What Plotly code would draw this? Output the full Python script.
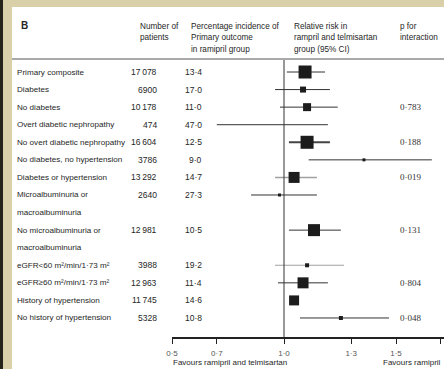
import plotly.graph_objects as go

# ---------------- data ----------------
labels = ["Primary composite", "Diabetes", "No diabetes", "Overt diabetic nephropathy",
          "No overt diabetic nephropathy", "No diabetes, no hypertension",
          "Diabetes or hypertension", "Microalbuminuria or\nmacroalbuminuria",
          "No microalbuminuria or\nmacroalbuminuria", "eGFR<60 m²/min/1·73 m²",
          "eGFR≥60 m²/min/1·73 m²", "History of hypertension", "No history of hypertension"]
n_patients = ["17\u2009078", "6900", "10\u2009178", "474", "16\u2009604", "3786", "13\u2009292",
              "2640", "12\u2009981", "3988", "12\u2009963", "11\u2009745", "5328"]
pct_incidence = ["13·4", "17·0", "11·0", "47·0", "12·5", "9·0", "14·7", "27·3", "10·5",
                 "19·2", "11·4", "14·6", "10·8"]
rel_risk = [1.094, 1.085, 1.103, None, 1.103, 1.357, 1.045, 0.98, 1.134, 1.103, 1.085, 1.045, 1.254]
ci_low = [1.013, 0.96, 0.982, 0.70, 1.022, 1.11, 0.96, 0.853, 1.022, 0.96, 0.973, 1.03, 1.071]
ci_high = [1.183, 1.205, 1.24, 1.196, 1.205, 1.66, 1.147, 1.147, 1.254, 1.268, 1.196, 1.06, 1.469]
p_interaction = ["", "", "0·783", "", "0·188", "", "0·019", "", "0·131", "", "0·804", "", "0·048"]
row_line = [0, 1, 2, 3, 4, 5, 6, 7, 9, 11, 12, 13, 14]
tick_vals = [0.5, 0.7, 1.0, 1.3, 1.5, 1.7]
tick_text = ["0·5", "0·7", "1·0", "1·3", "1·5", "1·7"]

# ---------------- styles ----------------
box_px = [13, 6, 8, 0, 13, 3, 11, 3, 12, 4, 11, 10, 4]
ci_color = ["#333", "#333", "#333", "#333", "#444", "#333", "#a0a0a0", "#333", "#333",
            "#a0a0a0", "#333", "#333", "#333"]
ci_width = [1, 1, 1, 1, 2, 1, 1.5, 1, 1, 1.2, 1, 1, 1]

W, H = 444, 369
ML, MB = 172, 32
PW, PH = W - ML, H - MB
FONT = "Liberation Sans Narrow, Liberation Sans, Arial, sans-serif"
SERIF = "Liberation Serif, Times New Roman, serif"
TXT = "#262626"
FS = 8.5
FS_LAB = 8.1


def px(x):
    return (x - ML) / PW


def py(y):
    return 1 - y / PH


fig = go.Figure()

for i in range(len(labels)):
    r = row_line[i]
    fig.add_trace(go.Scatter(x=[ci_low[i], ci_high[i]], y=[r, r], mode="lines",
                             line=dict(color=ci_color[i], width=ci_width[i]),
                             hoverinfo="skip", showlegend=False))
    if rel_risk[i] is not None and box_px[i] > 0:
        fig.add_trace(go.Scatter(x=[rel_risk[i]], y=[r], mode="markers",
                                 marker=dict(symbol="square", size=box_px[i], color="#1c1c1c",
                                             line=dict(width=0)),
                                 hoverinfo="skip", showlegend=False))

ann = []
for i in range(len(labels)):
    r = row_line[i]
    for k, part in enumerate(labels[i].split("\n")):
        ann.append(dict(x=px(15), y=r + k, xref="paper", yref="y", text=part,
                        xanchor="left", yanchor="middle", showarrow=False,
                        font=dict(size=FS_LAB, color=TXT, family=FONT)))
    ann.append(dict(x=px(159), y=r, xref="paper", yref="y", text=n_patients[i],
                    xanchor="right", yanchor="middle", showarrow=False,
                    font=dict(size=FS, color=TXT, family=FONT)))
    ann.append(dict(x=px(204), y=r, xref="paper", yref="y", text=pct_incidence[i],
                    xanchor="right", yanchor="middle", showarrow=False,
                    font=dict(size=FS, color=TXT, family=FONT)))
    if p_interaction[i]:
        ann.append(dict(x=px(398), y=r, xref="paper", yref="y", text=p_interaction[i],
                        xanchor="left", yanchor="middle", showarrow=False,
                        font=dict(size=9, color="#333", family=SERIF)))

headers = [
    (19, 25, "<b>B</b>", 10),
    (138, 26, "Number of", 8.2),
    (138, 37, "patients", 8.2),
    (189, 26, "Percentage incidence of", 8.2),
    (189, 37, "Primary outcome", 8.2),
    (189, 49, "in ramipril group", 8.2),
    (292, 26, "Relative risk in", 8.2),
    (292, 37, "rampril and telmisartan", 8.2),
    (292, 49, "group (95% CI)", 8.2),
    (398, 26, "p for", 8.2),
    (398, 37, "interaction", 8.2),
]
for x, y, t, s in headers:
    ann.append(dict(x=px(x), y=py(y), xref="paper", yref="paper", text=t,
                    xanchor="left", yanchor="middle", showarrow=False,
                    font=dict(size=s, color=TXT, family=FONT)))

ann.append(dict(x=px(171), y=py(362), xref="paper", yref="paper",
                text="Favours ramipril and telmisartan", xanchor="left", yanchor="middle",
                showarrow=False, font=dict(size=8, color=TXT, family=FONT)))
ann.append(dict(x=px(443), y=py(362), xref="paper", yref="paper",
                text="Favours ramipril", xanchor="right", yanchor="middle",
                showarrow=False, font=dict(size=8, color=TXT, family=FONT)))

beige = "#d9cfa8"
shapes = [
    # white panel on parchment page
    dict(type="rect", xref="paper", yref="paper", x0=px(12), x1=px(W + 2), y0=py(H + 2), y1=py(7),
         fillcolor="white", line=dict(width=0), layer="below"),
    dict(type="rect", xref="paper", yref="paper", x0=px(-2), x1=px(3), y0=py(H + 2), y1=py(-2),
         fillcolor="#26241a", line=dict(width=0), layer="below"),
    # header rule
    dict(type="line", xref="paper", yref="paper", x0=px(12), x1=px(W), y0=py(59), y1=py(59),
         line=dict(color="#555", width=1)),
    # line of no effect
    dict(type="line", xref="x", yref="paper", x0=1.0, x1=1.0, y0=0, y1=py(60),
         line=dict(color="#333", width=1)),
]

fig.update_layout(
    width=W, height=H,
    margin=dict(l=ML, r=0, t=0, b=MB, pad=0),
    paper_bgcolor=beige, plot_bgcolor="rgba(0,0,0,0)",
    annotations=ann, shapes=shapes,
    xaxis=dict(range=[0.5, 0.5 + PW / 224], showgrid=False, zeroline=False,
               showline=True, linecolor="#222", linewidth=1.5,
               ticks="outside", ticklen=5, tickwidth=1, tickcolor="#222",
               tickvals=tick_vals, ticktext=tick_text, ticklabelstandoff=3,
               tickfont=dict(size=8, color="#555", family=FONT)),
    yaxis=dict(range=[(PH - 72) / 17.57, -72 / 17.57], visible=False,
               showgrid=False, zeroline=False),
    showlegend=False,
)

fig.write_html("out.html", config={"displayModeBar": False},
               post_script="document.body.style.margin='0px';document.body.style.overflow='hidden';")
